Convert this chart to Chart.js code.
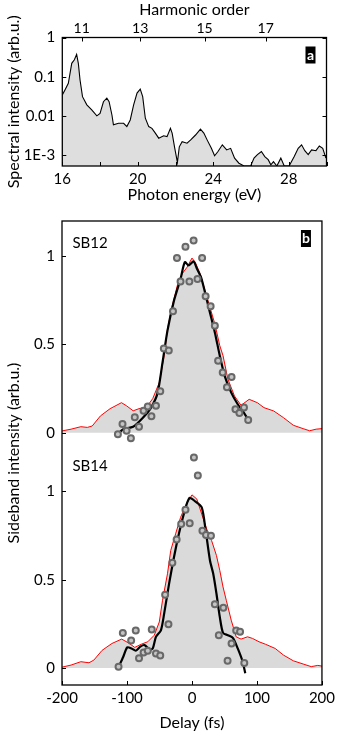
<!DOCTYPE html>
<html>
<head>
<meta charset="utf-8">
<script src="https://cdn.jsdelivr.net/npm/chart.js@4.4.1/dist/chart.umd.min.js"></script>
<style>
html, body { margin: 0; padding: 0; background: #fff; }
#wrap { position: relative; width: 339px; height: 740px; }
canvas { position: absolute; left: 0; }
#specCanvas { top: 0; }
#delayCanvas { top: 205px; }
</style>
</head>
<body>
<div id="wrap">
  <canvas id="specCanvas" width="339" height="205"></canvas>
  <canvas id="delayCanvas" width="339" height="535"></canvas>
</div>
<script>
// panel a: XUV spectrum (log scale)
const spectrumEnergy = [16.0,16.14,16.32,16.5,16.64,16.76,16.85,16.94,17.07,17.3,
  17.56,17.83,18.0,18.18,18.36,18.48,18.63,18.71,18.98,19.25,
  19.42,19.6,19.78,19.96,20.13,20.26,20.4,20.58,20.75,20.93,
  21.11,21.37,21.55,21.73,21.82,21.96,22.1,22.2,22.35,22.61,
  22.79,23.06,23.32,23.5,23.68,23.9,24.07,24.25,24.48,24.71,
  24.92,25.13,25.36,25.63,25.98,26.16,26.34,26.55,26.73,26.91,
  27.05,27.19,27.37,27.58,27.76,28.02,28.29,28.5,28.68,28.85,
  29.03,29.21,29.44,29.62,29.8,29.97];
const spectrumIntensity = [0.0341,0.0457,0.0679,0.219,0.269,0.37,0.219,0.0824,0.0309,0.0191,
  0.0141,0.0100,0.0115,0.0229,0.0282,0.0229,0.0105,0.00589,0.00646,0.00646,
  0.00531,0.00785,0.0191,0.038,0.0479,0.0309,0.0087,0.00531,0.00479,0.00363,
  0.00269,0.00309,0.00295,0.00479,0.00363,0.00148,0.000646,0.00162,0.00219,0.002,
  0.0024,0.00324,0.00457,0.00363,0.0024,0.00148,0.000955,0.00123,0.00182,0.00135,
  0.00148,0.000832,0.000617,0.000525,0.000525,0.000832,0.00102,0.00123,0.000912,0.000759,
  0.000562,0.000676,0.000525,0.000832,0.000525,0.000525,0.000912,0.00148,0.00182,0.00129,
  0.00102,0.00135,0.00129,0.0017,0.00148,0.000832];
const specYTicks = [1, 0.1, 0.01, 0.001];
const specYLabels = ['1', '0.1', '0.01', '1E-3'];
const harmonicOrder = [11, 13, 15, 17];
const harmonicEnergy = [17.03, 20.13, 23.54, 26.78];

// panel b: sideband intensity vs delay
const SB12_OFFSET = 1.333;
const sb12RedDelay = [-200,-186,-171,-161,-153.5,-140.9,-126,-108.5,-100.6,-90.5,-81.5,-70.4,-60.4,-50.3,-42.8,-37.7,-30.2,-22.6,-15.1,-7.5,0,5,12.6,20.1,27.7,35.2,42.8,47.8,55.3,65.4,75.5,88,100.6,110.7,125.8,140.9,156,171,181,191,200];
const sb12RedVal = [0.01,0.02,0.034,0.03,0.038,0.095,0.136,0.17,0.152,0.124,0.136,0.143,0.193,0.284,0.436,0.587,0.72,0.833,0.90,0.9375,0.989,0.966,0.90,0.805,0.71,0.616,0.493,0.436,0.303,0.208,0.155,0.189,0.17,0.142,0.123,0.085,0.042,0.023,0.011,0.02,0.023];
const sb12FitDelay = [-113,-105.7,-90.6,-75.5,-62.9,-52.8,-45.3,-37.7,-27.7,-17.6,-11,-5,2.5,7.5,14,20,27.7,35.2,42.8,50.3,60.4,70.4,78,85.5];
const sb12FitVal = [-0.004,0.02,0.034,0.085,0.142,0.227,0.398,0.578,0.748,0.871,0.966,0.947,0.97,0.93,0.88,0.795,0.68,0.568,0.436,0.322,0.227,0.161,0.123,0.08];
const sb12PtsDelay = [-114,-106.9,-100.6,-94,-88,-81.5,-74.5,-68,-62.4,-55.4,-48.8,-43.3,-35.7,-29.2,-23.1,-17.6,-10,-4,2.5,8.5,15.6,21,28.7,35.2,40.2,47.3,53.8,60.9,66.9,73,80,86.5];
const sb12PtsVal = [-0.009,0.049,0.011,-0.032,0.087,0.034,0.124,0.148,0.093,0.152,0.235,0.477,0.466,0.688,0.989,0.856,1.053,0.856,1.089,0.871,0.989,0.773,0.716,0.606,0.407,0.341,0.258,0.315,0.133,0.111,0.142,0.072];

const sb14RedDelay = [-200,-186,-171,-158.5,-151,-138.4,-123.3,-108.2,-98,-88,-78,-68,-58,-50.3,-45.3,-37.7,-32.7,-25.2,-17.6,-10,0,7.5,15,22.6,30.2,37.7,42.8,47.8,52.8,60.4,68,75.5,85.5,93,103.1,113,128,141,156,171,183.5,193.6,200];
const sb14RedVal = [0.005,0.017,0.036,0.03,0.045,0.10,0.139,0.164,0.143,0.117,0.135,0.149,0.186,0.261,0.384,0.534,0.666,0.76,0.853,0.919,0.981,0.957,0.872,0.788,0.722,0.637,0.553,0.459,0.384,0.271,0.177,0.164,0.177,0.168,0.149,0.135,0.111,0.073,0.041,0.023,0.008,0.015,0.011];
const sb14FitDelay = [-112.7,-105.7,-99.6,-93,-86.5,-79.5,-73,-65.4,-60.4,-55.4,-47.8,-42.8,-35.2,-27.7,-20.1,-12.6,-4,5,15,21.1,27.7,32.7,37.7,42.8,47.8,55.3,62.9,70.4,78,82];
const sb14FitVal = [0.008,0.064,0.117,0.111,0.098,0.121,0.13,0.105,0.111,0.177,0.214,0.308,0.478,0.628,0.76,0.872,0.963,0.944,0.91,0.778,0.609,0.534,0.421,0.29,0.199,0.186,0.171,0.111,0.036,-0.03];
const sb14PtsDelay = [-113,-106.4,-93.6,-86.5,-81.5,-74.5,-68,-61.9,-55.4,-48.8,-41.3,-36.2,-30.2,-23.6,-16.6,-10,-3.5,3,9,16.1,21.6,29.2,35.2,41.3,48.3,54.8,60.9,68,74,80.5];
const sb14PtsVal = [0.008,0.199,0.156,0.212,0.055,0.088,0.098,0.218,0.083,0.071,0.415,0.248,0.596,0.728,0.816,0.897,0.82,1.192,1.09,0.778,0.754,0.75,0.361,0.186,0.342,0.041,0.139,0.212,0.205,0.028];

const sbTickVals = [0, 0.5, 1];
const sbTickLabels = ['0', '0.5', '1'];

const FONT = 'Lato';
Chart.defaults.font.family = FONT;
Chart.defaults.font.size = 15;
Chart.defaults.color = '#000';

const pts = (xs, ys, off = 0) => xs.map((x, i) => ({ x: x, y: ys[i] + off }));

// frame, inward tick marks, the a/b tag and text labels
const decor = {
  id: 'decor',
  afterDraw(chart, args, o) {
    const { ctx, chartArea: a } = chart;
    ctx.save();
    ctx.strokeStyle = '#000';
    ctx.lineWidth = 1;
    (o.marks || []).forEach(m => {
      const s = chart.scales[m.scale];
      s.ticks.forEach(t => {
        const p = Math.round(s.getPixelForValue(t.value)) + 0.5;
        ctx.beginPath();
        if (m.side === 'left') { ctx.moveTo(a.left, p); ctx.lineTo(a.left + 4, p); }
        if (m.side === 'right') { ctx.moveTo(a.right, p); ctx.lineTo(a.right - 4, p); }
        if (m.side === 'bottom') { ctx.moveTo(p, a.bottom); ctx.lineTo(p, a.bottom - 4); }
        if (m.side === 'top') { ctx.moveTo(p, a.top); ctx.lineTo(p, a.top + 4); }
        ctx.stroke();
      });
    });
    ctx.lineWidth = 1.3;
    ctx.strokeRect(a.left, a.top, a.right - a.left, a.bottom - a.top);

    ctx.fillStyle = '#000';
    ctx.fillRect(a.right - 21, a.top + 9, 10, 17);
    ctx.fillStyle = '#fff';
    ctx.font = 'bold 14px ' + FONT;
    ctx.textAlign = 'center';
    ctx.textBaseline = 'middle';
    ctx.fillText(o.tag, a.right - 16, a.top + 17.5);

    ctx.fillStyle = '#000';
    ctx.font = '15px ' + FONT;
    ctx.textAlign = 'left';
    (o.labels || []).forEach(l => {
      ctx.fillText(l.text, chart.scales.x.getPixelForValue(l.x), chart.scales.y.getPixelForValue(l.y));
    });
    ctx.restore();
  }
};

new Chart(document.getElementById('specCanvas'), {
  type: 'line',
  data: {
    datasets: [{
      data: pts(spectrumEnergy, spectrumIntensity),
      borderColor: '#000',
      borderWidth: 1.1,
      backgroundColor: '#dedede',
      fill: 'start',
      pointRadius: 0,
      tension: 0
    }]
  },
  options: {
    responsive: false,
    animation: false,
    layout: { padding: { left: 0, right: 12.5, top: 0, bottom: 0 } },
    plugins: {
      legend: { display: false },
      tooltip: { enabled: false },
      decor: {
        tag: 'a',
        marks: [
          { scale: 'y', side: 'left' }, { scale: 'y', side: 'right' },
          { scale: 'x', side: 'bottom' }, { scale: 'x2', side: 'top' }
        ]
      }
    },
    scales: {
      x: {
        type: 'linear', position: 'bottom', min: 16, max: 30,
        grid: { display: false, drawTicks: false }, border: { display: false },
        ticks: { stepSize: 2, autoSkip: false, maxRotation: 0, padding: 4,
          callback: v => (v % 4 === 0 ? v : '') },
        title: { display: true, text: 'Photon energy (eV)', font: { size: 16 }, padding: { top: 0, bottom: 1 } },
        afterFit: s => { s.height = 39; }
      },
      x2: {
        type: 'linear', position: 'top', min: 16, max: 30, display: true,
        grid: { display: false, drawTicks: false }, border: { display: false },
        afterBuildTicks: s => { s.ticks = harmonicEnergy.map(v => ({ value: v })); },
        ticks: { autoSkip: false, maxRotation: 0, padding: 1, font: { size: 14 },
          callback: v => harmonicOrder[harmonicEnergy.indexOf(v)] },
        title: { display: true, text: 'Harmonic order', font: { size: 16 }, padding: { top: 0, bottom: 0 } },
        afterFit: s => { s.height = 37.5; }
      },
      y: {
        type: 'logarithmic', min: 0.000524, max: 1,
        grid: { display: false, drawTicks: false }, border: { display: false },
        afterBuildTicks: s => { s.ticks = specYTicks.map(v => ({ value: v })); },
        ticks: { autoSkip: false, padding: 7,
          callback: v => specYLabels[specYTicks.indexOf(v)] },
        title: { display: true, text: 'Spectral intensity (arb.u.)', font: { size: 16 }, padding: { top: 4, bottom: 0 } },
        afterFit: s => { s.width = 62.3; }
      }
    }
  },
  plugins: [decor]
});

const sbTicks = sbTickVals.concat(sbTickVals.map(v => v + SB12_OFFSET));

// datasets listed first are drawn on top
new Chart(document.getElementById('delayCanvas'), {
  type: 'line',
  data: {
    datasets: [
      { data: pts(sb14PtsDelay, sb14PtsVal), showLine: false, pointRadius: 3,
        pointBorderWidth: 2, pointBorderColor: '#686868', pointBackgroundColor: '#c4c4c4' },
      { data: pts(sb12PtsDelay, sb12PtsVal, SB12_OFFSET), showLine: false, pointRadius: 3,
        pointBorderWidth: 2, pointBorderColor: '#686868', pointBackgroundColor: '#c4c4c4' },
      { data: pts(sb14FitDelay, sb14FitVal), borderColor: '#000', borderWidth: 2.2,
        fill: false, pointRadius: 0, tension: 0.25 },
      { data: pts(sb12FitDelay, sb12FitVal, SB12_OFFSET), borderColor: '#000', borderWidth: 2.2,
        fill: false, pointRadius: 0, tension: 0.25 },
      { data: pts(sb14RedDelay, sb14RedVal), borderColor: '#ff0000', borderWidth: 1,
        backgroundColor: '#dadada', fill: { value: 0 }, pointRadius: 0, tension: 0 },
      { data: pts(sb12RedDelay, sb12RedVal, SB12_OFFSET), borderColor: '#ff0000', borderWidth: 1,
        backgroundColor: '#dadada', fill: { value: SB12_OFFSET }, pointRadius: 0, tension: 0 }
    ]
  },
  options: {
    responsive: false,
    animation: false,
    layout: { padding: { left: 0, right: 11, top: 14, bottom: 0 } },
    plugins: {
      legend: { display: false },
      tooltip: { enabled: false },
      decor: {
        tag: 'b',
        marks: [{ scale: 'y', side: 'left' }, { scale: 'x', side: 'bottom' }],
        labels: [
          { text: 'SB12', x: -184, y: SB12_OFFSET + 1.075 },
          { text: 'SB14', x: -184, y: 1.145 }
        ]
      }
    },
    scales: {
      x: {
        type: 'linear', min: -200, max: 200,
        grid: { display: false, drawTicks: false }, border: { display: false },
        ticks: { stepSize: 100, autoSkip: false, maxRotation: 0, padding: 4 },
        title: { display: true, text: 'Delay (fs)', font: { size: 16 }, padding: { top: 0, bottom: 8 } },
        afterFit: s => { s.height = 55; }
      },
      y: {
        type: 'linear', min: -0.096, max: 2.532,
        grid: { display: false, drawTicks: false }, border: { display: false },
        afterBuildTicks: s => { s.ticks = sbTicks.map(v => ({ value: v })); },
        ticks: { autoSkip: false, padding: 7,
          callback: v => sbTickLabels[sbTicks.indexOf(v) % 3] },
        title: { display: true, text: 'Sideband intensity (arb.u.)', font: { size: 16 }, padding: { top: 4, bottom: 0 } },
        afterFit: s => { s.width = 62; }
      }
    }
  },
  plugins: [decor]
});
</script>
</body>
</html>
